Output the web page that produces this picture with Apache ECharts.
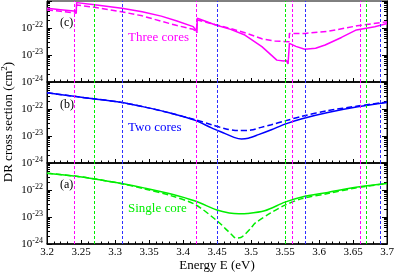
<!DOCTYPE html>
<html><head><meta charset="utf-8">
<script src="https://cdn.jsdelivr.net/npm/echarts@6/dist/echarts.min.js"></script>
<style>html,body{margin:0;padding:0;background:#fff}#c{width:395px;height:272px}</style>
</head><body><div id="c"></div>
<script>
// ---- data: log10 of DR cross section (cm^2) ----
var threeSolidE = [3.2, 3.22, 3.243, 3.2435, 3.27, 3.31, 3.34, 3.368, 3.39, 3.415, 3.4195, 3.4205, 3.421, 3.447, 3.47, 3.491, 3.516, 3.538, 3.548, 3.552, 3.5545, 3.556, 3.5565, 3.566, 3.579, 3.595, 3.609, 3.633, 3.655, 3.6565, 3.682, 3.70];
var threeSolidLog = [-21.27, -21.32, -21.38, -21.06, -21.14, -21.27, -21.40, -21.56, -21.73, -21.95, -22.10, -22.18, -21.64, -21.88, -22.05, -22.26, -22.69, -23.19, -23.22, -23.20, -23.33, -23.30, -22.57, -22.68, -22.79, -22.75, -22.63, -22.35, -22.07, -22.13, -21.95, -21.83];
var threeDashE = [3.2, 3.22, 3.243, 3.2435, 3.27, 3.31, 3.34, 3.368, 3.39, 3.415, 3.4195, 3.4205, 3.421, 3.447, 3.47, 3.494, 3.516, 3.535, 3.556, 3.5565, 3.58, 3.614, 3.656, 3.70];
var threeDashLog = [-21.33, -21.38, -21.45, -21.15, -21.23, -21.40, -21.55, -21.75, -21.90, -22.05, -22.12, -22.18, -21.70, -21.87, -22.02, -22.20, -22.40, -22.48, -22.51, -22.20, -22.20, -22.12, -21.92, -21.77];

var twoSolidE = [3.2, 3.243, 3.268, 3.308, 3.344, 3.381, 3.418, 3.442, 3.462, 3.475, 3.486, 3.496, 3.511, 3.530, 3.550, 3.575, 3.613, 3.657, 3.70];
var twoSolidLog = [-21.40, -21.54, -21.62, -21.75, -21.93, -22.15, -22.42, -22.70, -22.91, -23.05, -23.11, -23.08, -22.95, -22.77, -22.56, -22.36, -22.13, -21.92, -21.76];
var twoDashE = [3.2, 3.243, 3.268, 3.308, 3.344, 3.381, 3.418, 3.442, 3.462, 3.481, 3.50, 3.515, 3.530, 3.550, 3.575, 3.613, 3.657, 3.70];
var twoDashLog = [-21.40, -21.54, -21.62, -21.75, -21.93, -22.15, -22.40, -22.58, -22.73, -22.80, -22.78, -22.68, -22.58, -22.44, -22.27, -22.06, -21.89, -21.74];

var singleSolidE = [3.2, 3.243, 3.268, 3.308, 3.344, 3.381, 3.418, 3.45, 3.468, 3.482, 3.495, 3.52, 3.55, 3.575, 3.613, 3.657, 3.70];
var singleSolidLog = [-21.38, -21.49, -21.58, -21.75, -21.93, -22.14, -22.41, -22.74, -22.85, -22.88, -22.87, -22.77, -22.45, -22.26, -22.09, -21.89, -21.76];
var singleDashE = [3.2, 3.243, 3.268, 3.308, 3.344, 3.381, 3.418, 3.451, 3.462, 3.471, 3.478, 3.485, 3.492, 3.50, 3.506, 3.529, 3.55, 3.575, 3.613, 3.657, 3.70];
var singleDashLog = [-21.38, -21.49, -21.58, -21.76, -21.96, -22.20, -22.54, -23.16, -23.42, -23.64, -23.78, -23.76, -23.62, -23.41, -23.23, -22.85, -22.56, -22.32, -22.13, -21.91, -21.76];

var vlineE = [3.243, 3.268, 3.308, 3.417, 3.421, 3.45, 3.55, 3.557, 3.575, 3.656, 3.668, 3.686];
var vlineKind = ['m', 'g', 'b', 'g', 'm', 'b', 'g', 'm', 'b', 'm', 'g', 'b'];

var xTickMin = 3.2, xTickMax = 3.7, xTickStep = 0.05;
var yDecadeMin = -24, yDecadeMax = -21;   // axis spans 10^-24 .. 10^-21
var panelNames = ['(c)', '(b)', '(a)'];
var panelTitles = ['Three cores', 'Two cores', 'Single core'];

// ---- styling ----
var MAG = '#ff00ff', BLU = '#0000ff', GRN = '#00ee00';
var kindColor = {m: MAG, g: GRN, b: '#2e2eff'};
var panelColor = [MAG, BLU, GRN];
var FONT = '"Liberation Serif", "Times New Roman", serif';

// minor tick positions of a log10 axis (2..9 in each decade)
var logMinor = [];
for (var d = yDecadeMin; d < yDecadeMax; d++) for (var q = 2; q <= 9; q++) logMinor.push(d + Math.log10(q));

function pairs(E, L) { return E.map(function (e, i) { return [e, L[i]]; }); }

var gridTops = [1, 82, 163];
var grids = gridTops.map(function (t) {
  return {left: 47, right: 8, top: t, height: 81, show: true, borderColor: '#000', borderWidth: 1,
          containLabel: false, outerBoundsMode: 'none'};
});

var xAxes = [], yAxes = [], series = [];
function yAx(i, pos, major, withLabel) {
  return {
    gridIndex: i, type: 'value', min: yDecadeMin, max: yDecadeMax, interval: 1, position: pos,
    axisLine: {show: true, onZero: false, lineStyle: {color: '#000'}},
    axisTick: major ? {show: true, inside: true, length: 5, lineStyle: {color: '#000'}}
                    : {show: true, inside: true, length: 3, customValues: logMinor, lineStyle: {color: '#000'}},
    splitLine: {show: false},
    axisLabel: withLabel ? {color: '#000', margin: 4,
      formatter: function (v) {
        var p = Math.round(v);
        if (p >= yDecadeMax) return '';
        return '{b|10}{s|' + p + '}';
      },
      rich: {b: {fontFamily: FONT, fontSize: 11, color: '#000'},
             s: {fontFamily: FONT, fontSize: 8, color: '#000', padding: [0, 0, 7, 0]}}
    } : {show: false}
  };
}
for (var i = 0; i < 3; i++) {
  var bottom = (i === 2);
  xAxes.push({
    gridIndex: i, type: 'value', min: xTickMin, max: xTickMax, interval: xTickStep,
    axisLine: {show: true, onZero: false, lineStyle: {color: '#000', width: 1.5}},
    axisTick: {show: true, inside: true, length: 4, lineStyle: {color: '#000'}},
    minorTick: {show: true, splitNumber: 5, length: 2.5, lineStyle: {color: '#000'}},
    splitLine: {show: false},
    axisLabel: {show: bottom, color: '#000', fontFamily: FONT, fontSize: 11, margin: 3,
      formatter: function (v) { return String(+v.toFixed(2)); }},
    name: bottom ? 'Energy E (eV)' : '', nameLocation: 'middle', nameGap: 15,
    nameTextStyle: {color: '#000', fontFamily: FONT, fontSize: 13}
  });
  yAxes.push(yAx(i, 'left', true, true));    // 4*i : data axis
  yAxes.push(yAx(i, 'left', false, false));  // minor ticks
  yAxes.push(yAx(i, 'right', true, false));
  yAxes.push(yAx(i, 'right', false, false));
}

var sets = [
  [threeSolidE, threeSolidLog, threeDashE, threeDashLog, false],
  [twoSolidE, twoSolidLog, twoDashE, twoDashLog, 0.3],
  [singleSolidE, singleSolidLog, singleDashE, singleDashLog, 0.3]
];
for (var k = 0; k < 3; k++) {
  var s = sets[k], col = panelColor[k];
  series.push({
    type: 'line', xAxisIndex: k, yAxisIndex: 4 * k, data: pairs(s[2], s[3]),
    showSymbol: false, smooth: s[4], silent: true,
    lineStyle: {color: col, width: 1.5, type: [6, 3]},
    markLine: {
      silent: true, symbol: 'none', label: {show: false}, animation: false,
      data: vlineE.map(function (e, j) {
        return {xAxis: e, lineStyle: {color: kindColor[vlineKind[j]], width: 1, type: [3, 2]}};
      })
    }
  });
  series.push({
    type: 'line', xAxisIndex: k, yAxisIndex: 4 * k, data: pairs(s[0], s[1]),
    showSymbol: false, smooth: s[4], silent: true,
    lineStyle: {color: col, width: 1.5}
  });
}

var graphics = [{
  type: 'text', x: 9, y: 122, rotation: Math.PI / 2,
  style: {text: 'DR cross section (cm{s|2})', font: '13px ' + FONT, fill: '#000',
          align: 'center', verticalAlign: 'middle',
          rich: {s: {fontSize: 9, fontFamily: FONT, fill: '#000', padding: [0, 0, 8, 0]}}}
}];
var labelY = [21, 103, 183];
var titleY = [37, 127, 208];
for (var m = 0; m < 3; m++) {
  graphics.push({type: 'text', left: 60, top: labelY[m] - 4,
    style: {text: panelNames[m], font: '12px ' + FONT, fill: '#000'}});
  graphics.push({type: 'text', left: 128, top: titleY[m] - 6,
    style: {text: panelTitles[m], font: '13px ' + FONT, fill: panelColor[m]}});
}

var chart = echarts.init(document.getElementById('c'), null, {renderer: 'canvas'});
chart.setOption({
  animation: false,
  grid: grids, xAxis: xAxes, yAxis: yAxes, series: series, graphic: graphics
});
</script></body></html>
